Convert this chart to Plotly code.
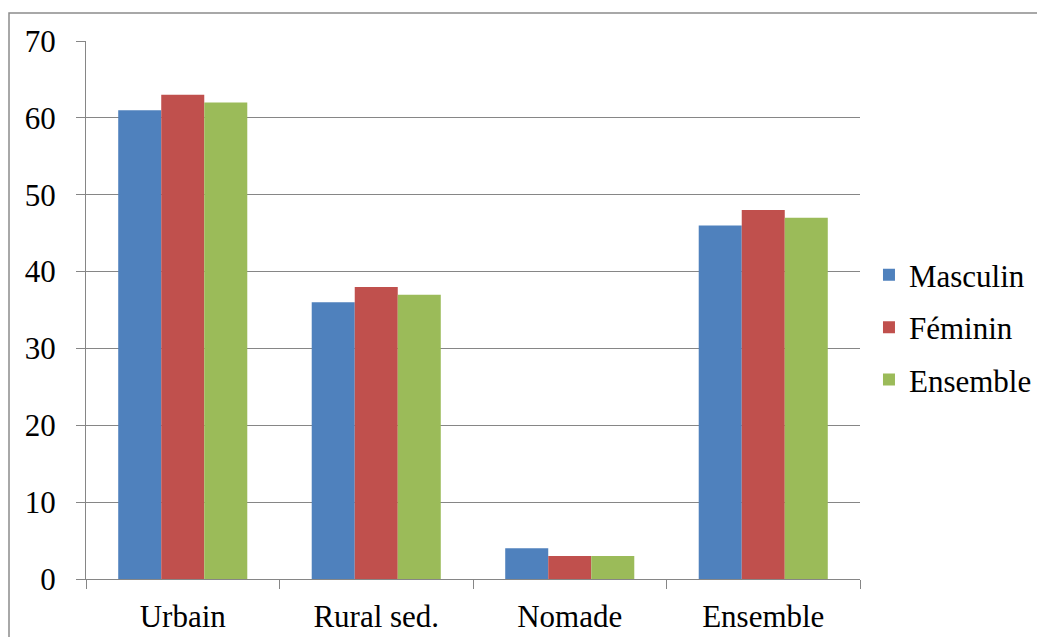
import plotly.graph_objects as go

categories = ["Urbain", "Rural sed.", "Nomade", "Ensemble"]
masculin = [61, 36, 4, 46]
feminin = [63, 38, 3, 48]
ensemble = [62, 37, 3, 47]
series_names = ["Masculin", "Féminin", "Ensemble"]
colors = ["#4F81BD", "#C0504D", "#9BBB59"]

FONT = "Liberation Serif"
OFF = 8  # default body margin of the page
W, H = 1045 - OFF, 637 - OFF
L, R, T, B = 86 - OFF, 860 - OFF, 41 - OFF, 579 - OFF

fig = go.Figure()
for i, (name, vals, col) in enumerate(zip(series_names, [masculin, feminin, ensemble], colors)):
    fig.add_trace(go.Bar(x=categories, y=vals, name=name, marker=dict(color=col, line=dict(width=0)),
                         legendgroup=str(i)))

grid = "#868686"
fig.update_layout(
    width=W, height=H,
    margin=dict(l=L, r=W - R, t=T, b=H - B, pad=0, autoexpand=False),
    paper_bgcolor="white", plot_bgcolor="white",
    font=dict(family=FONT, size=31, color="black"),
    barmode="group", bargap=0.333, bargroupgap=0,
    showlegend=True,
    legend=dict(x=1.0116, xanchor="left", y=0.468, yanchor="middle", traceorder="grouped",
                tracegroupgap=9, font=dict(family=FONT, size=31, color="black"), itemwidth=30,
                bgcolor="rgba(0,0,0,0)"),
    xaxis=dict(showgrid=False, showline=True, linecolor=grid, linewidth=1.3,
               ticks="outside", ticklen=9, tickcolor=grid, tickwidth=1.3,
               tickson="boundaries", ticklabelstandoff=10, automargin=False,
               tickfont=dict(family=FONT, size=31, color="black")),
    yaxis=dict(range=[0, 70], dtick=10, showgrid=True, gridcolor=grid, gridwidth=1.3,
               showline=True, linecolor=grid, linewidth=1.3, zeroline=False,
               ticks="outside", ticklen=9, tickcolor=grid, tickwidth=1.3, automargin=False,
               ticklabelstandoff=14, tickfont=dict(family=FONT, size=31, color="black")),
)

# chart border (top and left visible; right/bottom lie outside the picture)
pw, ph = R - L, B - T
def px(x): return (x - L) / pw
def py(y): return (B - y) / ph
fig.add_shape(type="rect", xref="paper", yref="paper",
              x0=px(1), x1=px(1080), y0=py(700), y1=py(5),
              line=dict(color="#8c8c8c", width=1.5), layer="below")

fig.write_html("out.html")
